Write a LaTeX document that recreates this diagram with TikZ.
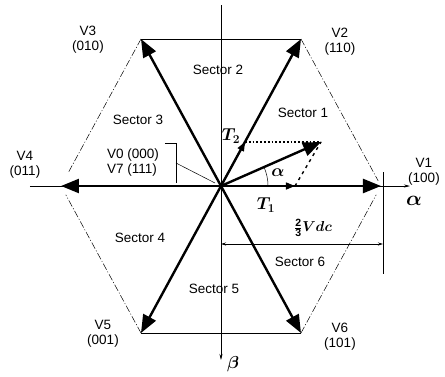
\documentclass[tikz,border=0pt]{standalone}
\usepackage{fontspec}
\usepackage{amsmath}
\usepackage{bm}
\setmainfont{Liberation Sans}
\usetikzlibrary{arrows.meta}

\begin{document}
\begin{tikzpicture}[x=1pt,y=1pt,
  vec/.style={line width=2.4pt, -{Triangle[length=18pt,width=14pt]}},
  part/.style={line width=1.4pt, -{Triangle[length=9pt,width=7pt]}},
  side/.style={line width=0.5pt, dash pattern=on 7pt off 2pt on 1pt off 2pt},
  edge/.style={line width=0.6pt},
  axis/.style={line width=0.6pt, -{Stealth[length=6pt,width=3pt]}},
  lbl/.style={font=\fontsize{13.5}{15}\selectfont, align=center, inner sep=0pt}]

  \useasboundingbox (-221,-190) rectangle (224,186);

  % parameters
  \def\R{160}   % length of V1 and V4
  \def\hx{80}   % x-part of the slanted vectors
  \def\hy{147}  % y-part of the slanted vectors

  % hexagon corners
  \coordinate (O)  at (0,0);
  \coordinate (V1) at (\R,0);
  \coordinate (V2) at (\hx,\hy);
  \coordinate (V3) at (-\hx,\hy);
  \coordinate (V4) at (-\R,0);
  \coordinate (V5) at (-\hx,-\hy);
  \coordinate (V6) at (\hx,-\hy);

  % reference vector and its parts
  \coordinate (T1) at (74,0);
  \coordinate (T2) at (24,44);
  \coordinate (Vr) at (100,44);

  % axes
  \coordinate (al0) at (-191,0);
  \coordinate (al1) at (189,0);
  \coordinate (be0) at (0,181);
  \coordinate (be1) at (0,-174);
  \draw[axis] (al0) -- (al1);
  \draw[axis] (be0) -- (be1);
  \node (alpha) at (193,-15) {\fontsize{22}{22}\selectfont$\bm{\alpha}$};
  \node (beta) at (12,-178) {\fontsize{19}{19}\selectfont$\bm{\beta}$};

  % hexagon sides
  \draw[edge] (V3) -- (V2);
  \draw[edge] (V5) -- (V6);
  \draw[side, shorten >=6pt] (V2) -- (V1);
  \draw[side, shorten >=10pt] (V6) -- (V1);
  \draw[side, shorten >=16pt] (V3) -- (V4);
  \draw[side, shorten >=10pt] (V5) -- (V4);

  % the six switching vectors
  \foreach \v in {V1,V2,V3,V4,V5,V6}
    \draw[vec] (O) -- (\v);
  \fill (O) circle (2.4pt);

  % reference vector
  \draw[part] (O) -- (T1);
  \draw[part] (O) -- (T2);
  \draw[line width=1.8pt, dotted] (T2) -- (Vr);
  \draw[line width=1.4pt, dash pattern=on 3pt off 4pt] (T1) -- (Vr);
  \draw[vec] (O) -- (Vr);
  \draw[line width=0.5pt] (47,0) arc[start angle=0, end angle=23.7, radius=47];
  \node (ang) at (57,13) {\fontsize{18}{18}\selectfont$\bm{\alpha}$};
  \node (t1) at (45,-19) {\fontsize{18}{18}\selectfont$\bm{T_1}$};
  \node (t2) at (10,50) {\fontsize{18}{18}\selectfont$\bm{T_2}$};

  % 2/3 Vdc dimension
  \coordinate (D0) at (0,-58);
  \coordinate (D1) at (162,-58);
  \coordinate (E0) at (162,14);
  \coordinate (E1) at (162,-88);
  \draw[line width=0.6pt] (E0) -- (E1);
  \draw[line width=0.9pt, {Stealth[length=5pt,width=3pt]}-{Stealth[length=5pt,width=3pt]}] (D0) -- (D1);
  \node (vdc) at (92,-42) {\fontsize{15}{15}\selectfont$\frac{\mathbf{2}}{\mathbf{3}}\bm{Vdc}$};

  % zero vectors
  \node[lbl, align=left] (zero) at (-88,23) {V0 (000)\\V7 (111)};
  \coordinate (b0) at (-56,43);
  \coordinate (b1) at (-45,43);
  \coordinate (b2) at (-45,3);
  \coordinate (b3) at (-45,23);
  \coordinate (b4) at (-6,3);
  \draw[line width=0.8pt] (b0) -- (b1) -- (b2);
  \draw[line width=0.5pt] (b3) -- (b4);

  % vector labels
  \node[lbl] (l1) at (203,14) {V1\\(100)};
  \node[lbl] (l2) at (119,144) {V2\\(110)};
  \node[lbl] (l3) at (-133,146) {V3\\(010)};
  \node[lbl] (l4) at (-196,21) {V4\\(011)};
  \node[lbl] (l5) at (-118,-148) {V5\\(001)};
  \node[lbl] (l6) at (119,-151) {V6\\(101)};

  % sector labels
  \node[lbl] (s1) at (82,73) {Sector 1};
  \node[lbl] (s2) at (-3,116) {Sector 2};
  \node[lbl] (s3) at (-83,66) {Sector 3};
  \node[lbl] (s4) at (-81,-52) {Sector 4};
  \node[lbl] (s5) at (-7,-103) {Sector 5};
  \node[lbl] (s6) at (79,-76) {Sector 6};
\end{tikzpicture}
\end{document}
